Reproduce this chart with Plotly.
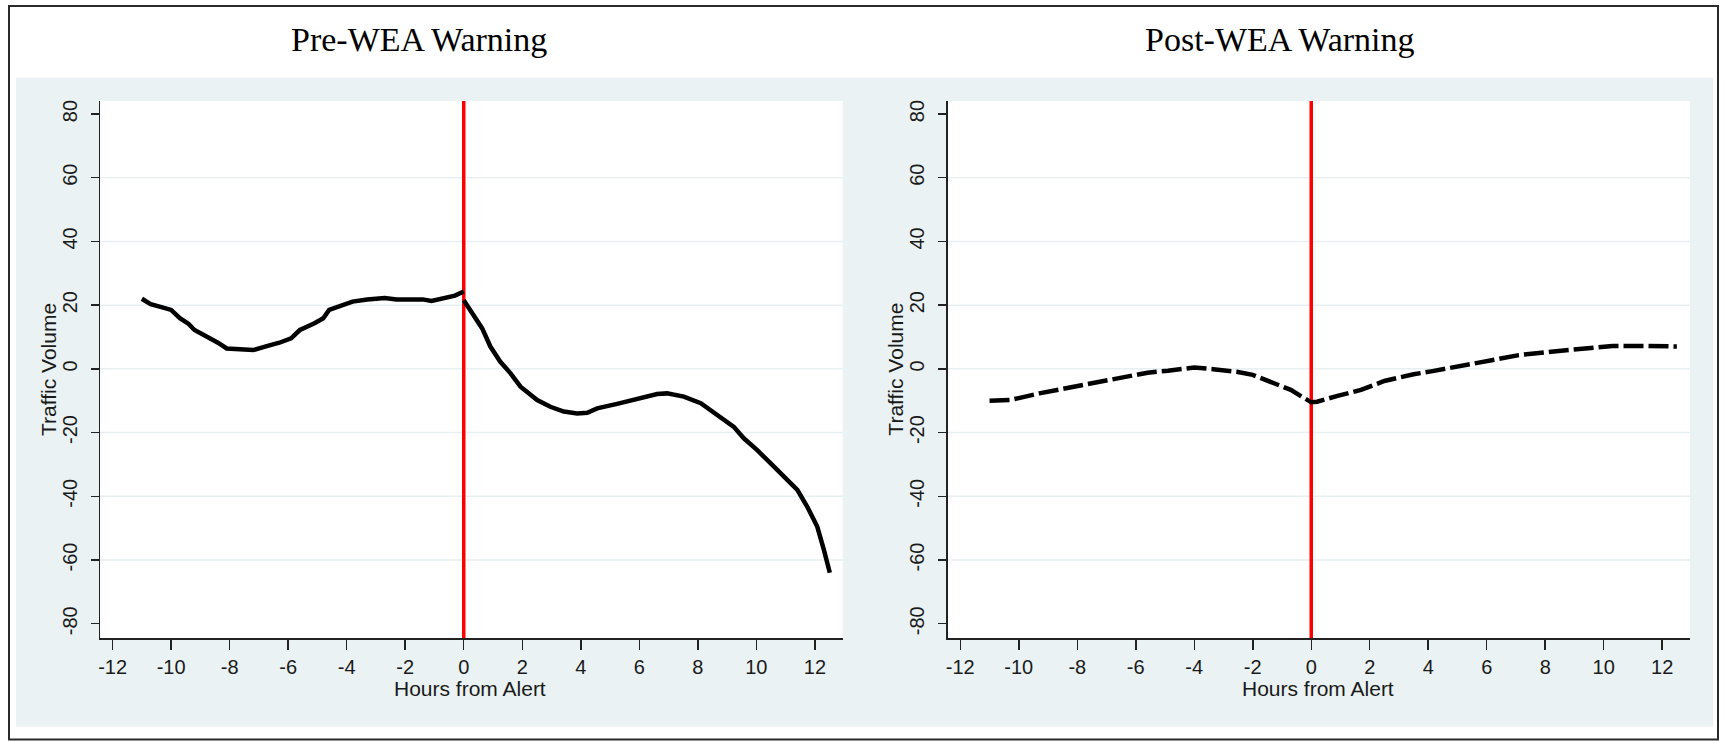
import plotly.graph_objects as go

# ---------------- data ----------------
panel_titles = ["Pre-WEA Warning", "Post-WEA Warning"]
x_title = "Hours from Alert"
y_title = "Traffic Volume"
alert_hour = 0

x_tick_vals = [-12, -10, -8, -6, -4, -2, 0, 2, 4, 6, 8, 10, 12]
x_tick_text = ["-12", "-10", "-8", "-6", "-4", "-2", "0", "2", "4", "6", "8", "10", "12"]
y_tick_vals = [-80, -60, -40, -20, 0, 20, 40, 60, 80]
y_tick_text = ["-80", "-60", "-40", "-20", "0", "20", "40", "60", "80"]
grid_vals = [-60, -40, -20, 0, 20, 40, 60]

# Pre-WEA panel, before the alert
pre_before_x = [-11.0, -10.7, -10.3, -10.0, -9.7, -9.4, -9.2, -8.8, -8.4, -8.1, -7.5, -7.2,
                -6.7, -6.3, -5.9, -5.6, -5.1, -4.8, -4.6, -4.2, -3.8, -3.3, -2.7, -2.3,
                -1.4, -1.1, -0.7, -0.3, 0.0]
pre_before_y = [22.0, 20.3, 19.3, 18.5, 15.9, 14.1, 12.2, 10.3, 8.2, 6.4, 5.9, 5.9,
                7.2, 8.2, 9.6, 12.2, 14.3, 15.9, 18.5, 19.7, 21.1, 21.8, 22.2, 21.8,
                21.8, 21.3, 22.1, 23.0, 24.3]
# Pre-WEA panel, after the alert
pre_after_x = [0.0, 0.34, 0.63, 0.91, 1.25, 1.60, 1.94, 2.51, 2.96, 3.42, 3.88, 4.22,
               4.56, 5.24, 5.93, 6.61, 6.95, 7.52, 8.10, 8.66, 9.23, 9.57, 10.03, 10.49,
               10.94, 11.40, 11.74, 12.08, 12.31, 12.51]
pre_after_y = [21.5, 16.9, 12.7, 7.0, 2.2, -1.4, -5.6, -9.8, -11.9, -13.4, -14.0, -13.8,
               -12.4, -11.0, -9.3, -7.9, -7.7, -8.7, -10.8, -14.5, -18.2, -21.8, -25.5, -29.7,
               -33.9, -38.0, -43.3, -49.5, -56.9, -64.0]

# Post-WEA panel
post_x = [-11.0, -10.3, -9.3, -8.25, -7.2, -6.3, -5.6, -4.9, -4.0, -3.35, -2.55, -2.0,
          -1.4, -0.7, 0.0, 0.2, 0.9, 1.7, 2.5, 3.0, 3.5, 4.1, 5.1, 6.1, 7.1, 8.2, 9.2,
          10.3, 11.5, 12.5]
post_y = [-10.0, -9.8, -7.7, -5.9, -4.2, -2.5, -1.2, -0.6, 0.4, -0.1, -0.9, -1.9,
          -4.0, -6.6, -10.5, -10.3, -8.5, -6.6, -3.8, -2.6, -1.7, -0.8, 0.9, 2.3, 4.3, 5.4, 6.4,
          7.2, 7.2, 7.0]

# ---------------- layout helpers (pixel geometry) ----------------
W, H = 1725, 741


def fx(p):
    return p / W


def fy(p):
    return 1 - p / H


X_RANGE = [-12.43, 12.95]
Y_RANGE = [-84.58, 84.08]
panels = [
    dict(x0=100.0, x1=842.7),
    dict(x0=947.7, x1=1690.0),
]
PLOT_TOP, PLOT_BOT = 101.0, 638.3

AXIS_COL = "#222222"
TICK_FONT = dict(family="Liberation Sans, Arial, sans-serif", size=20, color="#1a1a1a")
TITLE_FONT = dict(family="Liberation Serif, Times New Roman, serif", size=34, color="#000000")
AXT_FONT = dict(family="Liberation Sans, Arial, sans-serif", size=21, color="#1a1a1a")

fig = go.Figure()

# red alert lines (drawn first so the curves sit on top)
for i in range(2):
    xs = "" if i == 0 else "2"
    fig.add_trace(go.Scatter(x=[alert_hour, alert_hour], y=Y_RANGE, mode="lines",
                             line=dict(color="#ff0000", width=3.5),
                             xaxis=f"x{xs}", yaxis=f"y{xs}",
                             showlegend=False, hoverinfo="skip"))

# curves
fig.add_trace(go.Scatter(x=pre_before_x, y=pre_before_y, mode="lines",
                         line=dict(color="black", width=4.5), xaxis="x", yaxis="y",
                         showlegend=False, hoverinfo="skip"))
fig.add_trace(go.Scatter(x=pre_after_x, y=pre_after_y, mode="lines",
                         line=dict(color="black", width=4.5), xaxis="x", yaxis="y",
                         showlegend=False, hoverinfo="skip"))
fig.add_trace(go.Scatter(x=post_x, y=post_y, mode="lines",
                         line=dict(color="black", width=4.5, dash="20px,5px"),
                         xaxis="x2", yaxis="y2", showlegend=False, hoverinfo="skip"))

shapes = []
# outer graph region (light bluish gray)
shapes.append(dict(type="rect", xref="paper", yref="paper", layer="below",
                   x0=fx(16), x1=fx(1713), y0=fy(726.7), y1=fy(77.7),
                   fillcolor="#eaf2f3", line=dict(width=0)))
# white plot regions
for p in panels:
    shapes.append(dict(type="rect", xref="paper", yref="paper", layer="below",
                       x0=fx(p["x0"]), x1=fx(p["x1"]), y0=fy(PLOT_BOT), y1=fy(PLOT_TOP),
                       fillcolor="#ffffff", line=dict(width=0)))
# outer frame
shapes.append(dict(type="rect", xref="paper", yref="paper", layer="above",
                   x0=fx(9), x1=fx(1718), y0=fy(739.5), y1=fy(6),
                   fillcolor="rgba(0,0,0,0)", line=dict(color="#2a2a2a", width=2)))

annotations = []
title_cx = [419, 1280]
for i, p in enumerate(panels):
    xs = "" if i == 0 else "2"
    # gridlines
    for g in grid_vals:
        shapes.append(dict(type="line", xref=f"x{xs} domain", yref=f"y{xs}", layer="below",
                           x0=0, x1=1, y0=g, y1=g, line=dict(color="#e7eff1", width=1.5)))
    # titles
    annotations.append(dict(text=panel_titles[i], xref="paper", yref="paper",
                            x=fx(title_cx[i]), y=fy(40), xanchor="center", yanchor="middle",
                            showarrow=False, font=TITLE_FONT))
    cx = (p["x0"] + p["x1"]) / 2
    annotations.append(dict(text=x_title, xref="paper", yref="paper",
                            x=fx(cx - 1), y=fy(688), xanchor="center", yanchor="middle",
                            showarrow=False, font=AXT_FONT))
    annotations.append(dict(text=y_title, xref="paper", yref="paper", textangle=-90,
                            x=fx(p["x0"] - 51.7), y=fy((PLOT_TOP + PLOT_BOT) / 2),
                            xanchor="center", yanchor="middle",
                            showarrow=False, font=AXT_FONT))

layout_axes = {}
for i, p in enumerate(panels):
    xs = "" if i == 0 else "2"
    layout_axes[f"xaxis{xs}"] = dict(
        domain=[fx(p["x0"]), fx(p["x1"])], range=X_RANGE, anchor=f"y{xs}",
        tickmode="array", tickvals=x_tick_vals, ticktext=x_tick_text,
        ticks="outside", ticklen=10, tickwidth=1.5, tickcolor=AXIS_COL,
        showline=True, linecolor=AXIS_COL, linewidth=1.5,
        showgrid=False, zeroline=False, tickfont=TICK_FONT, automargin=False,
        fixedrange=True)
    layout_axes[f"yaxis{xs}"] = dict(
        domain=[fy(PLOT_BOT), fy(PLOT_TOP)], range=Y_RANGE, anchor=f"x{xs}",
        tickmode="array", tickvals=y_tick_vals, ticktext=y_tick_text, tickangle=-90,
        ticks="outside", ticklen=8, tickwidth=1.5, tickcolor=AXIS_COL,
        ticklabelstandoff=6,
        showline=True, linecolor=AXIS_COL, linewidth=1.5,
        showgrid=False, zeroline=False, tickfont=TICK_FONT, automargin=False,
        fixedrange=True)

fig.update_layout(
    width=W, height=H,
    margin=dict(l=0, r=0, t=0, b=0, pad=0),
    paper_bgcolor="#ffffff", plot_bgcolor="#ffffff",
    shapes=shapes, annotations=annotations, showlegend=False,
    **layout_axes,
)

fig.write_html("out.html",
               config={"displayModeBar": False, "staticPlot": True},
               post_script="document.body.style.margin='0';document.body.style.overflow='hidden';")
